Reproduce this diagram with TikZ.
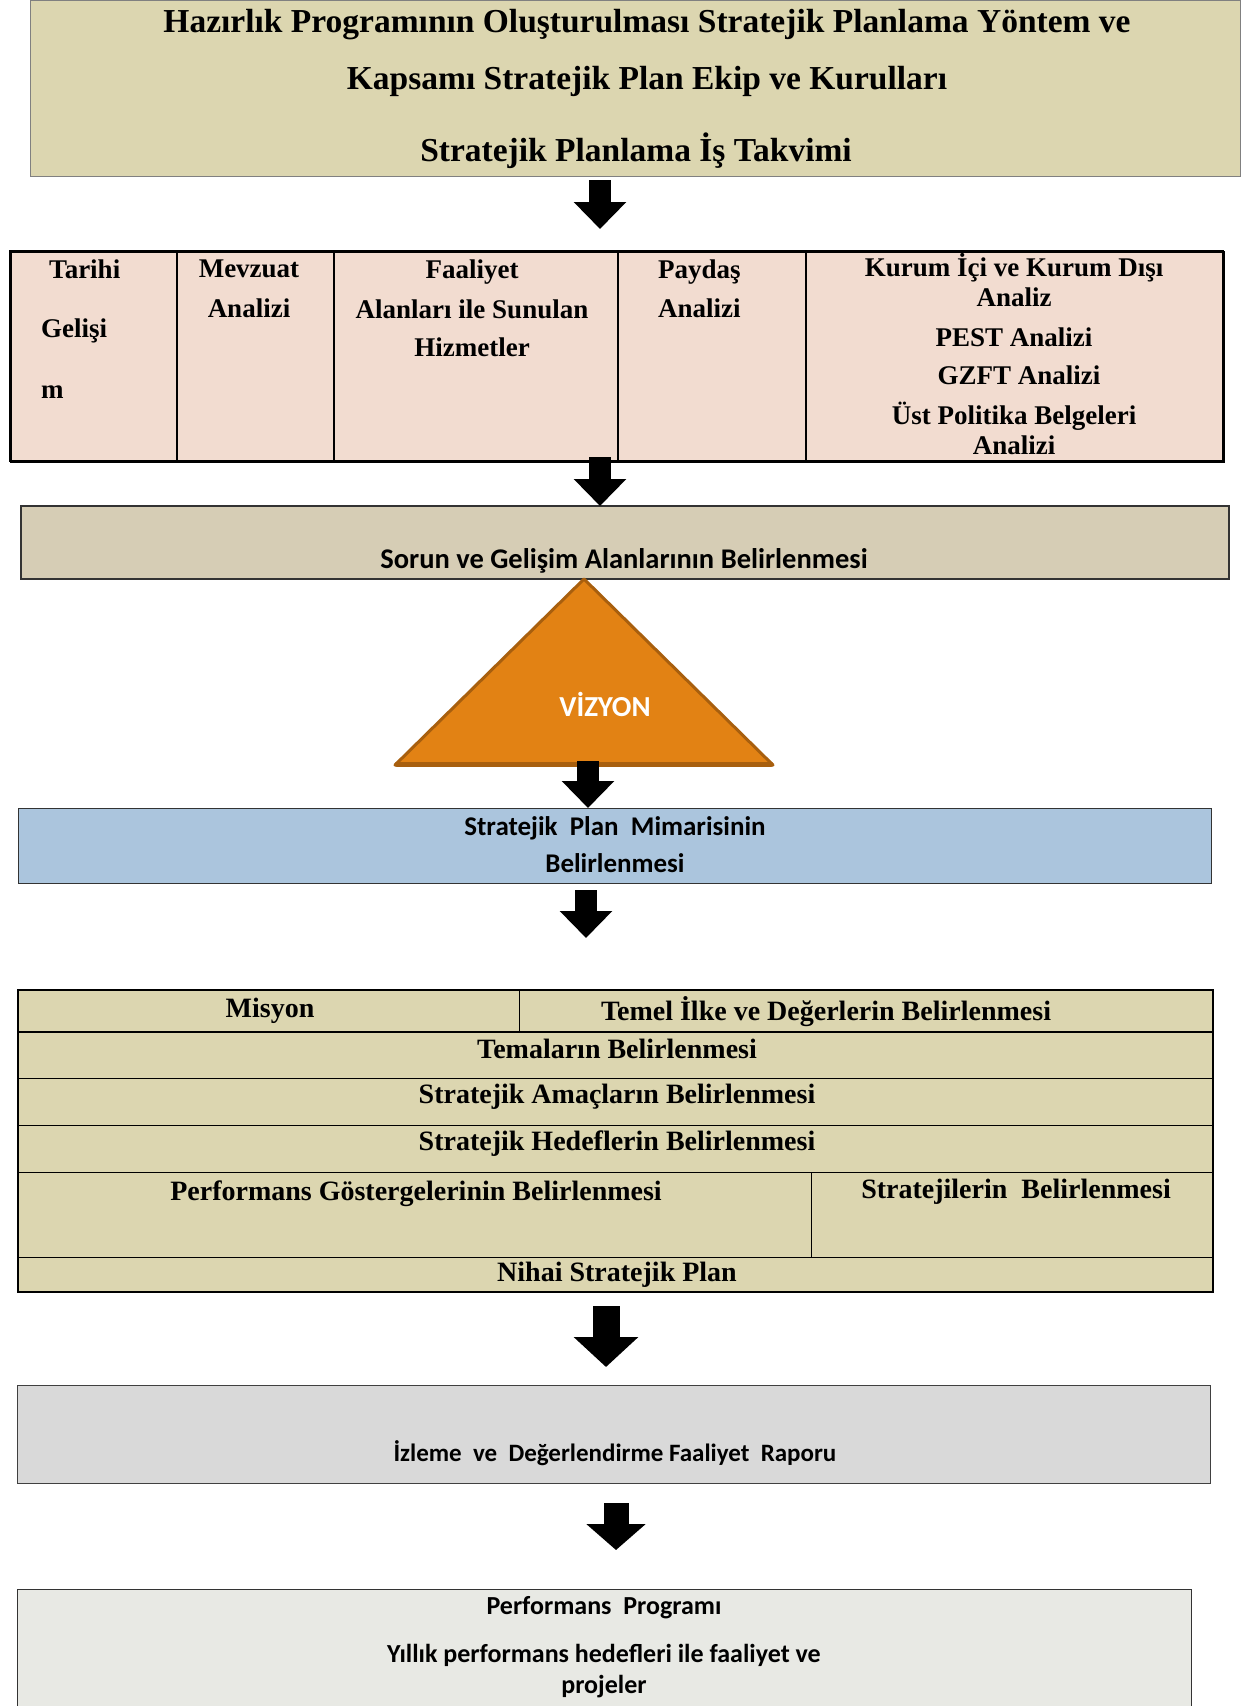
\documentclass[tikz,border=0pt]{standalone}
\usepackage{fontspec}
\setmainfont{Liberation Serif}
\setsansfont{Carlito}
\usetikzlibrary{arrows.meta,positioning}

\definecolor{khaki}{RGB}{220,214,176}
\definecolor{rose}{RGB}{242,220,208}
\definecolor{taupe}{RGB}{214,205,181}
\definecolor{vizorange}{RGB}{226,130,20}
\definecolor{vizedge}{RGB}{168,95,14}
\definecolor{steel}{RGB}{171,197,221}
\definecolor{silver}{RGB}{217,217,217}
\definecolor{mist}{RGB}{232,233,228}

\tikzset{
  cell/.style={draw, rectangle, anchor=north west, inner sep=0pt, line width=1pt},
  sertxt/.style={font=\fontsize{27}{32}\selectfont\bfseries, inner sep=0pt},
  tabtxt/.style={font=\fontsize{28}{32}\selectfont\bfseries, inner sep=0pt},
  santxt/.style={font=\sffamily\fontsize{26}{30}\selectfont\bfseries, inner sep=0pt},
  fatarrow/.style={line width=22pt, -{Triangle[width=51pt,length=27pt]}}
}

\begin{document}
\begin{tikzpicture}[x=1pt,y=-1pt]
\useasboundingbox (0,0) rectangle (1245,1706);

% Hazirlik box
\node[cell, fill=khaki, draw=gray, minimum width=1210pt, minimum height=176pt] (hazirlik) at (30,0) {};
\node[sertxt, font=\fontsize{33.5}{38}\selectfont\bfseries] (haz1) at (647,25) {Hazırlık Programının Oluşturulması Stratejik Planlama Yöntem ve};
\node[sertxt, font=\fontsize{33.5}{38}\selectfont\bfseries] (haz2) at (647,81) {Kapsamı Stratejik Plan Ekip ve Kurulları};
\node[sertxt, font=\fontsize{33.5}{38}\selectfont\bfseries] (haz3) at (636,151) {Stratejik Planlama İş Takvimi};

% Analiz table
\node[cell, fill=rose, line width=1.5pt, minimum width=166pt, minimum height=210pt] (tarihi) at (10,251) {};
\node[cell, fill=rose, line width=1.5pt, minimum width=157pt, minimum height=210pt] (mevzuat) at (176,251) {};
\node[cell, fill=rose, line width=1.5pt, minimum width=284pt, minimum height=210pt] (faaliyet) at (333,251) {};
\node[cell, fill=rose, line width=1.5pt, minimum width=188pt, minimum height=210pt] (paydas) at (617,251) {};
\node[cell, fill=rose, line width=1.5pt, minimum width=418pt, minimum height=210pt] (kurum) at (805,251) {};
\draw[line width=2.5pt] (10,251) rectangle (1223,461);

\node[sertxt, anchor=west] (t1) at (49,269) {Tarihi};
\node[sertxt, anchor=west] (t2) at (41,331) {Gelişi};
\node[sertxt, anchor=west] (t3) at (41,392) {m};
\node[sertxt] (m1) at (249,269) {Mevzuat};
\node[sertxt] (m2) at (249,308) {Analizi};
\node[sertxt] (f1) at (472,272) {Faaliyet};
\node[sertxt] (f2) at (472,309) {Alanları ile Sunulan};
\node[sertxt] (f3) at (472,347) {Hizmetler};
\node[sertxt, anchor=west] (p1) at (658,272) {Paydaş};
\node[sertxt, anchor=west] (p2) at (658,308) {Analizi};
\node[sertxt] (k1) at (1014,268) {Kurum İçi ve Kurum Dışı};
\node[sertxt] (k2) at (1014,297) {Analiz};
\node[sertxt] (k3) at (1014,337) {PEST Analizi};
\node[sertxt] (k4) at (1019,375) {GZFT Analizi};
\node[sertxt] (k5) at (1014,416) {Üst Politika Belgeleri};
\node[sertxt] (k6) at (1014,445) {Analizi};

% Sorun box and vision
\node[cell, fill=taupe, draw=black!80, line width=1.5pt, minimum width=1208pt, minimum height=73pt] (sorun) at (20,505) {};
\node[santxt, font=\sffamily\fontsize{28.5}{30}\selectfont\bfseries] (sorunt) at (624,561) {Sorun ve Gelişim Alanlarının Belirlenmesi};
\draw[fill=vizorange, draw=vizedge, line width=3pt, line join=round] (584,579) -- (773,765) -- (395,765) -- cycle;
\draw[vizedge, line width=5pt, line cap=round] (397,764) -- (771,764);
\node[santxt, text=white, font=\sffamily\fontsize{29}{30}\selectfont\bfseries] (vizyon) at (605,704) {VİZYON};

% Mimari box
\node[cell, fill=steel, draw=black!80, minimum width=1193pt, minimum height=75pt] (mimari) at (18,808) {};
\node[santxt, font=\sffamily\fontsize{27}{30}\selectfont\bfseries] (mim1) at (615,828) {Stratejik\ \ Plan\ \ Mimarisinin};
\node[santxt, font=\sffamily\fontsize{27}{30}\selectfont\bfseries] (mim2) at (615,863) {Belirlenmesi};

% Plan table
\node[cell, fill=khaki, minimum width=501pt, minimum height=42pt] (misyon) at (18,990) {};
\node[cell, fill=khaki, minimum width=694pt, minimum height=42pt] (temel) at (519,990) {};
\node[cell, fill=khaki, minimum width=1195pt, minimum height=46pt] (tema) at (18,1032) {};
\node[cell, fill=khaki, minimum width=1195pt, minimum height=47pt] (amac) at (18,1078) {};
\node[cell, fill=khaki, minimum width=1195pt, minimum height=47pt] (hedef) at (18,1125) {};
\node[cell, fill=khaki, minimum width=793pt, minimum height=85pt] (gosterge) at (18,1172) {};
\node[cell, fill=khaki, minimum width=402pt, minimum height=85pt] (strateji) at (811,1172) {};
\node[cell, fill=khaki, minimum width=1195pt, minimum height=35pt] (nihai) at (18,1257) {};
\draw[line width=2pt] (18,990) rectangle (1213,1292);
\draw[line width=2pt] (18,1032) -- (1213,1032);

\node[tabtxt] (misyont) at (270,1011) {Misyon};
\node[tabtxt] (temelt) at (826,1012) {Temel İlke ve Değerlerin Belirlenmesi};
\node[tabtxt] (temat) at (617,1049) {Temaların Belirlenmesi};
\node[tabtxt] (amact) at (617,1097) {Stratejik Amaçların Belirlenmesi};
\node[tabtxt] (hedeft) at (617,1144) {Stratejik Hedeflerin Belirlenmesi};
\node[tabtxt] (gostt) at (416,1194) {Performans Göstergelerinin Belirlenmesi};
\node[tabtxt] (stratt) at (1016,1192) {Stratejilerin\ \ Belirlenmesi};
\node[tabtxt] (nihait) at (617,1275) {Nihai Stratejik Plan};

% Izleme box
\node[cell, fill=silver, draw=black!75, minimum width=1193pt, minimum height=98pt] (izleme) at (17,1385) {};
\node[santxt, font=\sffamily\fontsize{25}{30}\selectfont\bfseries] (izlemet) at (615,1453) {İzleme\ \ ve\ \ Değerlendirme Faaliyet\ \ Raporu};

% Performans box
\node[cell, fill=mist, draw=black!80, minimum width=1174pt, minimum height=130pt] (program) at (17,1589) {};
\node[santxt] (prog1) at (604,1608) {Performans\ \ Programı};
\node[santxt] (prog2) at (604,1655) {Yıllık performans hedefleri ile faaliyet ve};
\node[santxt] (prog3) at (604,1687) {projeler};

% Arrows
\coordinate (a1s) at (600,180); \coordinate (a1e) at (600,229);
\coordinate (a2s) at (600,457); \coordinate (a2e) at (600,506);
\coordinate (a3s) at (588,761); \coordinate (a3e) at (588,808);
\coordinate (a4s) at (586,890); \coordinate (a4e) at (586,938);
\coordinate (a5s) at (606,1306); \coordinate (a5e) at (606,1367);
\coordinate (a6s) at (616,1503); \coordinate (a6e) at (616,1550);
\draw[fatarrow] (a1s) -- (a1e);
\draw[fatarrow] (a2s) -- (a2e);
\draw[fatarrow] (a3s) -- (a3e);
\draw[fatarrow] (a4s) -- (a4e);
\draw[fatarrow, line width=27pt, -{Triangle[width=63pt,length=30pt]}] (a5s) -- (a5e);
\draw[fatarrow, line width=25pt, -{Triangle[width=58pt,length=26pt]}] (a6s) -- (a6e);
\end{tikzpicture}
\end{document}
